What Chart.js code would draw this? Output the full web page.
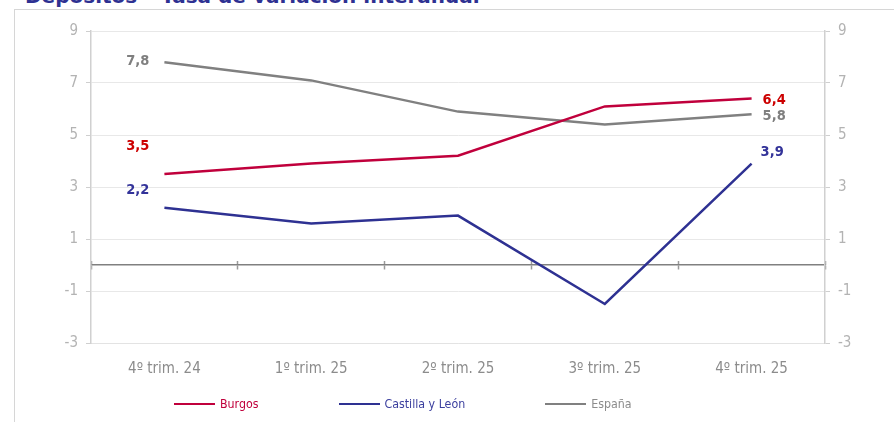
<!DOCTYPE html>
<html>
<head>
<meta charset="utf-8">
<script src="https://cdn.jsdelivr.net/npm/chart.js@4"></script>
<style>
  html, body { margin: 0; padding: 0; background: #ffffff; overflow: hidden; }
  #wrap { position: relative; width: 894px; height: 422px; overflow: hidden; }
  #frame { position: absolute; left: 14px; top: 9px; width: 1200px; height: 1200px;
           border: 1.5px solid #d6d6d6; box-sizing: border-box; }
  #title { position: absolute; left: 25px; top: -14px; font: bold 20px "DejaVu Sans", sans-serif;
           line-height: 20px; color: #2E3192; white-space: nowrap; }
  canvas { position: absolute; left: 0; top: 0; }
  #legend { position: absolute; left: 174px; top: 396px; display: flex; gap: 80px;
            font: 12.3px "DejaVu Sans Condensed", sans-serif; line-height: 16px; }
  .li { display: flex; align-items: center; white-space: nowrap; }
  .sw { display: inline-block; width: 41px; height: 2.5px; margin-right: 5px; }
</style>
</head>
<body>
<div id="wrap">
  <div id="frame"></div>
  <div id="title">Depósitos – Tasa de variación interanual</div>
  <canvas id="c" width="894" height="422"></canvas>
  <div id="legend"></div>
</div>
<script>
// ---- data ----
const categories = ['4º trim. 24', '1º trim. 25', '2º trim. 25', '3º trim. 25', '4º trim. 25'];
const seriesNames = ['Burgos', 'Castilla y León', 'España'];
const burgos = [3.5, 3.9, 4.2, 6.1, 6.4];
const castillaLeon = [2.2, 1.6, 1.9, -1.5, 3.9];
const espana = [7.8, 7.1, 5.9, 5.4, 5.8];
const yTicks = [-3, -1, 1, 3, 5, 7, 9];

// ---- styles ----
const lineColors = ['#C0003C', '#2E3192', '#808080'];
const labelColors = ['#CC0000', '#333399', '#7F7F7F'];
const legendColors = ['#C0003C', '#3B3F9E', '#8C8C8C'];
// label placement relative to the point (first & last points only)
const labelPlacement = [
  { first: { dx: -15, dy: -28, align: 'right' }, last: { dx: 11, dy: 1.5, align: 'left' } },
  { first: { dx: -15, dy: -18, align: 'right' }, last: { dx: 9, dy: -11, align: 'left' } },
  { first: { dx: -15, dy: -1, align: 'right' }, last: { dx: 11, dy: 2, align: 'left' } }
];

const fmt = v => v.toFixed(1).replace('.', ',');

const endLabels = {
  id: 'endLabels',
  afterDatasetsDraw(chart) {
    const ctx = chart.ctx;
    ctx.save();
    ctx.font = 'bold 14.5px "DejaVu Sans Condensed", sans-serif';
    ctx.textBaseline = 'middle';
    chart.data.datasets.forEach((ds, i) => {
      const meta = chart.getDatasetMeta(i);
      const pts = meta.data;
      const n = pts.length;
      [['first', 0], ['last', n - 1]].forEach(([k, idx]) => {
        const p = labelPlacement[i][k];
        ctx.fillStyle = labelColors[i];
        ctx.textAlign = p.align;
        ctx.fillText(fmt(ds.data[idx]), pts[idx].x + p.dx, pts[idx].y + p.dy);
      });
    });
    ctx.restore();
  }
};

const yCommon = {
  min: -3, max: 9,
  afterBuildTicks: s => { s.ticks = yTicks.map(v => ({ value: v })); },
  ticks: { color: '#B3B3B3', font: { family: 'DejaVu Sans Condensed', size: 15 }, padding: 8 },
};

const chart = new Chart(document.getElementById('c'), {
  type: 'line',
  data: {
    labels: categories,
    datasets: [
      { label: seriesNames[0], data: burgos, borderColor: lineColors[0], backgroundColor: lineColors[0] },
      { label: seriesNames[1], data: castillaLeon, borderColor: lineColors[1], backgroundColor: lineColors[1] },
      { label: seriesNames[2], data: espana, borderColor: lineColors[2], backgroundColor: lineColors[2] }
    ].map(d => Object.assign(d, { borderWidth: 2.5, pointRadius: 0, pointHoverRadius: 0, tension: 0, fill: false }))
  },
  options: {
    responsive: false,
    animation: false,
    devicePixelRatio: 1,
    layout: { padding: { top: 31, left: 0, right: 0, bottom: 0 } },
    plugins: { legend: { display: false }, tooltip: { enabled: false }, title: { display: false } },
    scales: {
      x: {
        offset: true,
        afterFit: s => { s.height = 79; },
        grid: { display: false },
        border: { display: true, color: '#E3E3E3', width: 1 },
        ticks: { color: '#8C8C8C', font: { family: 'DejaVu Sans Condensed', size: 15 }, padding: 9, maxRotation: 0 }
      },
      x2: {
        axis: 'x', type: 'category', labels: categories, offset: true,
        position: { y: 0 },
        grid: { offset: true, drawOnChartArea: false, drawTicks: true, tickLength: 4, tickColor: '#9A9A9A', tickWidth: 1.5 },
        border: { display: true, color: '#808080', width: 1.5 },
        ticks: { display: false }
      },
      x3: {
        axis: 'x', type: 'category', labels: categories, offset: true,
        position: { y: 0 },
        grid: { offset: true, drawOnChartArea: false, drawTicks: true, tickLength: -4, tickColor: '#9A9A9A', tickWidth: 1.5 },
        border: { display: false },
        ticks: { display: false }
      },
      y: Object.assign({}, yCommon, {
        position: 'left',
        afterFit: s => { s.width = 91; },
        grid: { color: '#E8E8E8', lineWidth: 1, tickColor: '#CFCFCF', tickLength: 5 },
        border: { display: true, color: '#D0D0D0', width: 1.5 }
      }),
      y2: Object.assign({}, yCommon, {
        position: 'right',
        afterFit: s => { s.width = 69; },
        grid: { drawOnChartArea: false, tickColor: '#CFCFCF', tickLength: 5 },
        border: { display: true, color: '#D0D0D0', width: 1.5 }
      })
    }
  },
  plugins: [endLabels]
});

// legend built from the chart's datasets
const lg = document.getElementById('legend');
chart.data.datasets.forEach((ds, i) => {
  const item = document.createElement('div');
  item.className = 'li';
  const sw = document.createElement('span');
  sw.className = 'sw';
  sw.style.background = ds.borderColor;
  const tx = document.createElement('span');
  tx.textContent = ds.label;
  tx.style.color = legendColors[i];
  item.appendChild(sw); item.appendChild(tx);
  lg.appendChild(item);
});
</script>
</body>
</html>
